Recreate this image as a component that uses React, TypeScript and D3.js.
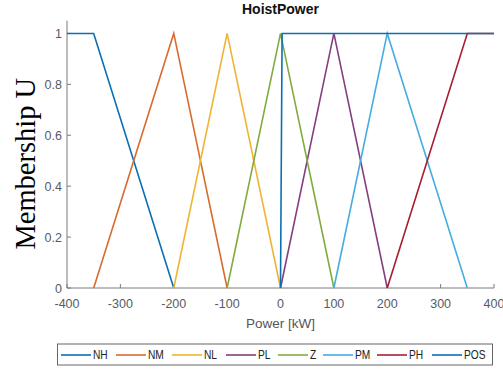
import React from "react";
import * as d3 from "d3";

// Membership functions for hoist power (x in kW, y = membership)
const NH: [number, number][] = [[-400, 1], [-350, 1], [-200, 0]];
const NM: [number, number][] = [[-350, 0], [-200, 1], [-100, 0]];
const NL: [number, number][] = [[-200, 0], [-100, 1], [0, 0]];
const PL: [number, number][] = [[0, 0], [100, 1], [200, 0]];
const Z: [number, number][] = [[-100, 0], [0, 1], [100, 0]];
const PM: [number, number][] = [[100, 0], [200, 1], [350, 0]];
const PH: [number, number][] = [[200, 0], [350, 1], [400, 1]];
const POS: [number, number][] = [[0, 0], [3, 1], [400, 1]];

const seriesNames = ["NH", "NM", "NL", "PL", "Z", "PM", "PH", "POS"];
const seriesData = [NH, NM, NL, PL, Z, PM, PH, POS];
const seriesColors = ["#0a6fb5", "#d86c30", "#efb433", "#853f7f", "#80ac3e", "#45ace2", "#a81e30", "#0a6fb5"];

const xTicks = [-400, -300, -200, -100, 0, 100, 200, 300, 400];
const yTicks = [0, 0.2, 0.4, 0.6, 0.8, 1];

// legend entry line start positions
const legendX = [61, 116, 172, 226, 278, 323, 377, 432];

export default function App() {
  const W = 503, H = 369;
  const left = 67, right = 494, top = 20.7, bottom = 288;
  const x = d3.scaleLinear().domain([-400, 400]).range([left, right]);
  const y = d3.scaleLinear().domain([0, 1.05]).range([bottom, top]);
  const line = d3.line<[number, number]>().x(d => x(d[0])).y(d => y(d[1]));
  const sans = "Liberation Sans, Arial, Helvetica, sans-serif";
  const tickColor = "#555b66";
  const axisColor = "#7a7a7a";

  return (
    <svg width={W} height={H} style={{ position: "absolute", left: 0, top: 0 }} fontFamily={sans}>
      <rect width={W} height={H} fill="#fff" />
      <text x={(left + right) / 2} y={14} textAnchor="middle" fontSize={14} fontWeight="bold" fill="#111">HoistPower</text>

      {/* axes */}
      <line x1={left} x2={left} y1={top} y2={bottom} stroke={axisColor} strokeWidth={1} />
      <line x1={left} x2={right} y1={bottom} y2={bottom} stroke={axisColor} strokeWidth={1} />
      {xTicks.map(t => (
        <g key={"x" + t}>
          <line x1={x(t)} x2={x(t)} y1={bottom} y2={bottom - 4} stroke={axisColor} />
          <text x={x(t)} y={308} textAnchor="middle" fontSize={12.5} fill={tickColor}>{t}</text>
        </g>
      ))}
      {yTicks.map(t => (
        <g key={"y" + t}>
          <line x1={left} x2={left + 4} y1={y(t)} y2={y(t)} stroke={axisColor} />
          <text x={62} y={y(t) + 4.5} textAnchor="end" fontSize={12.5} fill={tickColor}>{t === 0 || t === 1 ? String(t) : t.toFixed(1)}</text>
        </g>
      ))}

      <text x={(left + right) / 2} y={328} textAnchor="middle" fontSize={13.5} fill="#555">Power [kW]</text>
      <text transform={`translate(35,${(y(0) + y(1)) / 2 + 3}) rotate(-90)`} textAnchor="middle" fontSize={28.5}
        fontFamily="Liberation Serif, Times New Roman, serif" fill="#000">Membership U</text>

      {/* membership curves */}
      {seriesData.map((d, i) => (
        <path key={seriesNames[i]} d={line(d) || ""} fill="none" stroke={seriesColors[i]} strokeWidth={1.6} />
      ))}

      {/* legend */}
      <rect x={57.5} y={344} width={435} height={21} fill="#fff" stroke="#666" strokeWidth={1} />
      {seriesNames.map((n, i) => (
        <g key={"lg" + n}>
          <line x1={legendX[i]} x2={legendX[i] + 30} y1={355} y2={355} stroke={seriesColors[i]} strokeWidth={1.6} />
          <text x={legendX[i] + 32} y={359.5} fontSize={12} fill="#222" transform={`translate(${(legendX[i] + 32) * 0.15},0) scale(0.85,1)`}>{n}</text>
        </g>
      ))}
    </svg>
  );
}
